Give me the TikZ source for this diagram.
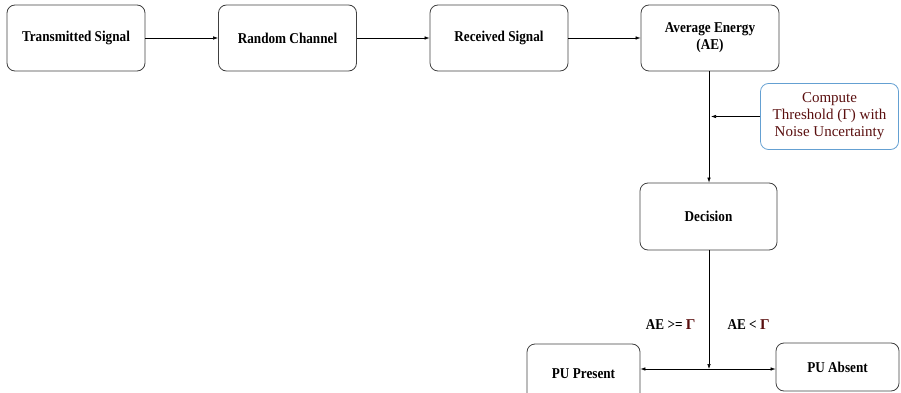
\documentclass[tikz,border=0pt]{standalone}
\usepackage{fontspec}
\setmainfont{Liberation Serif}
\newfontfamily\condfont[FakeStretch=0.88]{Liberation Serif Bold}
\newfontfamily\gfont{Liberation Serif Bold}
\usetikzlibrary{arrows.meta}
\definecolor{darkred}{RGB}{90,15,15}
\definecolor{lblue}{RGB}{100,160,210}
\begin{document}
\begin{tikzpicture}[x=1pt,y=-1pt,
  box/.style={draw=black!75, rounded corners=8pt, line width=0.8pt, minimum width=138pt, minimum height=66pt, align=center, font=\fontsize{15}{17}\condfont, inner sep=2pt},
  conn/.style={line width=0.6pt, -{Latex[length=5pt,width=3.5pt]}},
  lbl/.style={font=\fontsize{15}{17}\condfont}]
\useasboundingbox (0,0) rectangle (901,393);
\node[box] (ts) at (76,38) {Transmitted Signal};
\node[box] (rc) at (287.5,38) {Random Channel};
\node[box] (rs) at (499,38) {Received Signal};
\node[box] (ae) at (710,38) {Average Energy\\(AE)};
\node[box, draw=lblue, text=darkred, font=\fontsize{15}{17}\selectfont] (ct) at (829.5,116.5) {Compute\\Threshold (Γ) with\\Noise Uncertainty};
\node[box, minimum width=137pt, minimum height=67pt] (de) at (708.5,216.5) {Decision};
\node[box, minimum width=113pt, minimum height=60pt] (pp) at (583.5,374) {PU Present};
\node[box, minimum width=123pt, minimum height=48pt] (pa) at (837.5,367) {PU Absent};
\draw[conn] (ts) -- (rc);
\draw[conn] (rc) -- (rs);
\draw[conn] (rs) -- (ae);
\draw[conn] (ae.south -| 709,0) -- (de.north -| 709,0);
\draw[conn] (ct.west) -- (711,116.5);
\coordinate (j) at (709,369);
\draw[conn] (de.south -| j) -- (j);
\draw[conn] (j) -- (pp.east |- j);
\draw[conn] (j) -- (pa.west |- j);
\node[lbl, anchor=east] (l1) at (699,325) {AE >= \textcolor{darkred}{\gfont Γ}};
\node[lbl, anchor=west] (l2) at (724,325) {AE < \textcolor{darkred}{\gfont Γ}};
\end{tikzpicture}
\end{document}
